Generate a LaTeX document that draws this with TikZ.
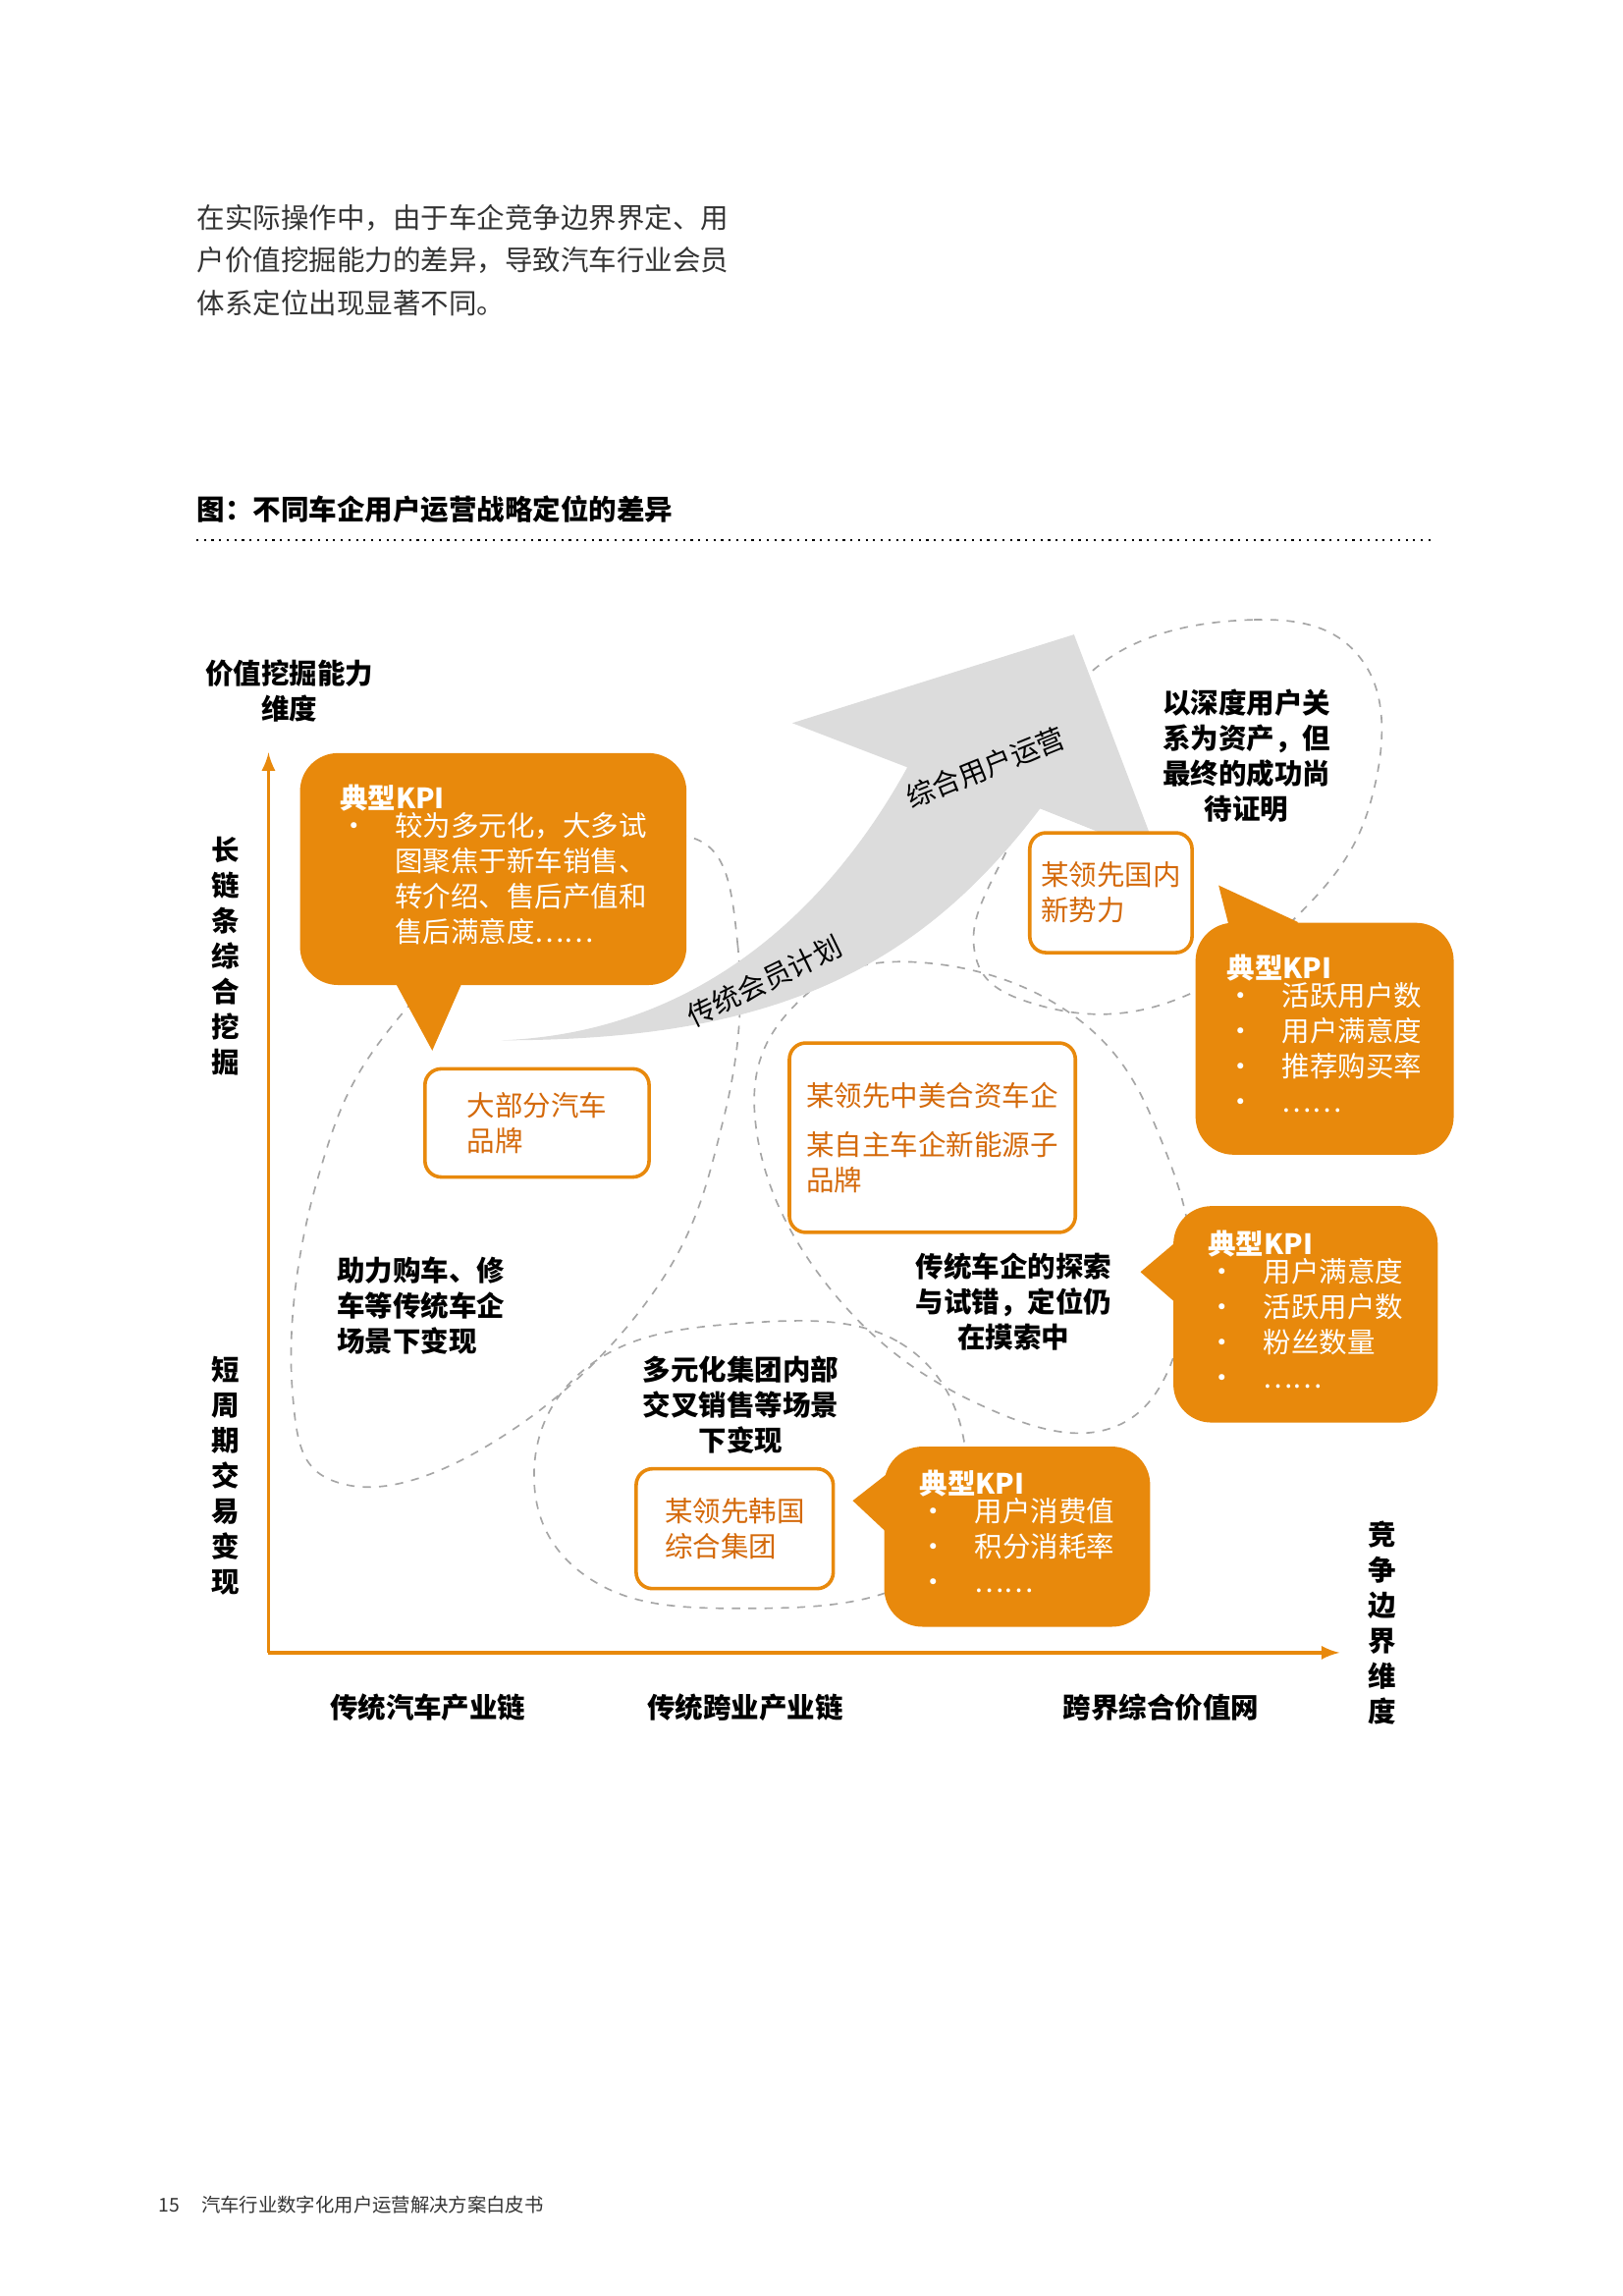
\documentclass[tikz,border=0pt]{standalone}
\usepackage{fontspec}
\setmainfont{Noto Sans CJK SC}
\usetikzlibrary{positioning}
\definecolor{pwcorange}{HTML}{E8890C}
\definecolor{pwctext}{HTML}{D4690A}
\definecolor{arrowgray}{HTML}{DCDCDC}
\tikzset{kpibox/.style={fill=pwcorange, rounded corners=14pt, text=white, align=left,
        inner sep=0pt, font=\fontsize{10.3}{13}\selectfont}}
\tikzset{brandbox/.style={draw=pwcorange, line width=1.3pt, rounded corners=6pt, fill=white,
        text=pwctext, align=left, font=\fontsize{10.3}{13}\selectfont}}
\tikzset{blob/.style={draw=gray!70, dashed, line width=0.6pt}}
\tikzset{note/.style={font=\bfseries\fontsize{10.3}{13}\selectfont, align=center}}
\tikzset{axis/.style={draw=pwcorange, line width=1.3pt, -latex}}
\newcommand{\kpi}[1]{{\bfseries 典型KPI}\\[-1pt]\begin{tabular}{@{}l@{\hspace{10pt}}l@{}}#1\end{tabular}}

\begin{document}
\begin{tikzpicture}[x=0.01909cm, y=-0.01909cm]
\useasboundingbox (0,0) rectangle (1100,1556);

%% intro text and title
\node[anchor=north west, align=left, text=black!80, font=\fontsize{10.3}{15.7}\selectfont] (intro) at (127,132)
  {在实际操作中，由于车企竞争边界界定、用\\户价值挖掘能力的差异，导致汽车行业会员\\体系定位出现显著不同。};
\node[anchor=west, font=\bfseries\fontsize{10.3}{13}\selectfont] (title) at (127,345) {图：不同车企用户运营战略定位的差异};
\draw[dotted, line width=0.8pt] (133,366) -- (973,366);

%% dashed regions
\draw[blob] plot[smooth cycle, tension=0.7] coordinates {(470,568) (500,640) (490,760) (440,880) (330,980) (230,1005) (198,940) (215,800) (270,690) (380,600)};
\draw[blob] plot[smooth cycle, tension=0.7] coordinates {(620,652) (730,690) (790,780) (805,880) (760,965) (660,950) (560,870) (512,760) (540,680)};
\draw[blob] plot[smooth cycle, tension=0.7] coordinates {(740,455) (850,420) (925,450) (930,540) (880,620) (790,680) (700,680) (660,640) (690,560)};
\draw[blob] plot[smooth cycle, tension=0.7] coordinates {(500,897) (610,910) (655,990) (620,1070) (500,1090) (400,1070) (362,1000) (400,925)};

%% big arrow
\fill[arrowgray] (340,705) .. controls (470,700) and (560,620) .. (615,520)
  -- (537,490) -- (728,430) -- (785,580) -- (705,548)
  .. controls (620,660) and (520,705) .. (340,705) -- cycle;
\node[rotate=22, font=\fontsize{10.3}{13}\selectfont] (synth) at (668,520) {综合用户运营};
\node[rotate=26, font=\fontsize{10.3}{13}\selectfont] (legacy) at (518,665) {传统会员计划};

%% axes
\coordinate (origin) at (182,1120);
\coordinate (ytop) at (182,510);
\coordinate (xend) at (908,1120);
\draw[axis] (origin) -- (ytop);
\draw[axis] (origin) -- (xend);
\node[note] (ylabel) at (196,468) {价值挖掘能力\\维度};
\node[note] (yhigh) at (153,648) {长\\链\\条\\综\\合\\挖\\掘};
\node[note] (ylow) at (153,1000) {短\\周\\期\\交\\易\\变\\现};
\node[note] (x1) at (290,1157) {传统汽车产业链};
\node[note] (x2) at (505,1157) {传统跨业产业链};
\node[note] (x3) at (787,1157) {跨界综合价值网};
\node[note] (xlabel) at (937,1100) {竞\\争\\边\\界\\维\\度};

%% KPI callouts
\fill[pwcorange] (262,655) -- (318,655) -- (293,712) -- cycle;
\node[kpibox, minimum width=5.0cm, minimum height=3.0cm, inner xsep=0.38cm, anchor=north west] (kpiA) at (203,510)
  {\kpi{•&较为多元化，大多试\\&图聚焦于新车销售、\\&转介绍、售后产值和\\&售后满意度……}};
\fill[pwcorange] (826,600) -- (880,625) -- (840,655) -- cycle;
\node[kpibox, minimum width=3.34cm, minimum height=3cm, anchor=north west, inner xsep=0.4cm] (kpiB) at (810,625)
  {\kpi{•&活跃用户数\\•&用户满意度\\•&推荐购买率\\•&……}};
\fill[pwcorange] (773,862) -- (805,835) -- (805,890) -- cycle;
\node[kpibox, minimum width=3.42cm, minimum height=2.8cm, anchor=north west, inner xsep=0.35cm] (kpiC) at (795,817)
  {\kpi{•&用户满意度\\•&活跃用户数\\•&粉丝数量\\•&……}};
\fill[pwcorange] (578,1017) -- (610,992) -- (610,1047) -- cycle;
\node[kpibox, minimum width=3.44cm, minimum height=2.33cm, anchor=north west, inner xsep=0.35cm] (kpiD) at (599,980)
  {\kpi{•&用户消费值\\•&积分消耗率\\•&……}};

%% brand boxes
\node[brandbox, minimum width=2.1cm, minimum height=1.55cm] (newforce) at (753,605) {某领先国内\\新势力};
\node[brandbox, minimum width=2.9cm, minimum height=1.4cm, inner xsep=0.4cm] (mostbrands) at (364,761) {大部分汽车\\品牌};
\node[brandbox, minimum width=3.7cm, minimum height=2.45cm] (jointventure) at (632,771) {某领先中美合资车企\\[5pt]某自主车企新能源子\\品牌};
\node[brandbox, minimum width=2.55cm, minimum height=1.55cm] (korea) at (498,1036) {某领先韩国\\综合集团};

%% region notes
\node[note] (deepuser) at (845,512) {以深度用户关\\系为资产，但\\最终的成功尚\\待证明};
\node[note, align=left, anchor=west] (traditional) at (222,885) {助力购车、修\\车等传统车企\\场景下变现};
\node[note] (explore) at (687,882) {传统车企的探索\\与试错，定位仍\\在摸索中};
\node[note] (crosssell) at (502,952) {多元化集团内部\\交叉销售等场景\\下变现};

%% footer
\node[anchor=west, font=\fontsize{7}{9}\selectfont, text=black!80] (footer) at (101,1494) {15\hspace{8pt}汽车行业数字化用户运营解决方案白皮书};
\end{tikzpicture}
\end{document}
